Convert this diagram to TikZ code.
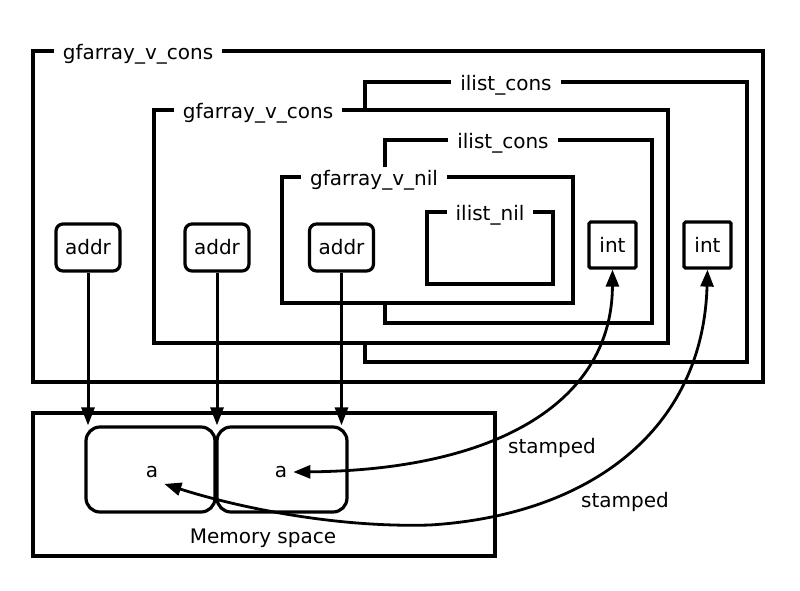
\documentclass[tikz,border=0pt]{standalone}
\usepackage{fontspec}
\setmainfont{DejaVu Sans}
\usetikzlibrary{arrows.meta}
\begin{document}
\begin{tikzpicture}[x=1pt,y=-1pt,
  fnt/.style={font=\fontsize{20}{24}\selectfont},
  frame/.style={draw, line width=3.4pt, fill=white},
  lbl/.style={fnt, fill=white, inner xsep=9pt, inner ysep=3pt, anchor=base},
  txt/.style={fnt, inner sep=1pt},
  addrbox/.style={fnt, draw, line width=3.2pt, rounded corners=7pt, minimum width=64pt, minimum height=47pt, inner sep=0pt},
  intbox/.style={fnt, draw, line width=3.2pt, rounded corners=1.5pt, minimum width=47pt, minimum height=46pt, inner sep=0pt},
  cell/.style={draw, line width=3.2pt, rounded corners=14pt, minimum height=85pt, inner sep=0pt},
  aval/.style={fnt, inner xsep=6pt, inner ysep=6pt},
  arr/.style={line width=3pt, -{Triangle[length=18pt,width=13pt]}},
  arrboth/.style={line width=2.8pt, {Triangle[length=17pt,width=13pt]}-{Triangle[length=17pt,width=13pt]}},
]
\useasboundingbox (0,0) rectangle (800,590);
\fill[white] (0,0) rectangle (800,590);

% outer gfarray_v_cons
\draw[frame] (33,51) rectangle (763,382);
\node[lbl] (l1) at (138,59) {gfarray\_v\_cons};

% outer ilist_cons
\draw[frame] (365,82) rectangle (747,362);
\node[lbl] (l2) at (506,90) {ilist\_cons};

% inner gfarray_v_cons
\draw[frame] (154,110) rectangle (668,343);
\node[lbl] (l3) at (258,118) {gfarray\_v\_cons};

% inner ilist_cons
\draw[frame] (385,140) rectangle (652,323);
\node[lbl] (l4) at (503,148) {ilist\_cons};

% gfarray_v_nil
\draw[frame] (282,177) rectangle (573,303);
\node[lbl] (l5) at (374,185) {gfarray\_v\_nil};

% ilist_nil
\draw[frame] (427,212) rectangle (553,284);
\node[lbl] (l6) at (490,220) {ilist\_nil};

% addr and int boxes
\node[addrbox] (addr1) at (88,247.5) {addr};
\node[addrbox] (addr2) at (217,247.5) {addr};
\node[addrbox] (addr3) at (341.5,247.5) {addr};
\node[intbox] (int1) at (612.5,245) {int};
\node[intbox] (int2) at (707.5,245) {int};

% memory space
\draw[line width=3.2pt] (33,413) rectangle (495,556);
\node[cell, minimum width=129pt] (cell1) at (150.5,469.5) {};
\node[cell, minimum width=130pt] (cell2) at (282,469.5) {};
\node[aval] (a1) at (152,472) {a};
\node[aval] (a2) at (281,472) {a};
\node[txt] (mem) at (263,538) {Memory space};

% pointer arrows
\draw[arr] (addr1.south) -- (addr1.south |- cell1.north);
\draw[arr] (addr2.south) -- (addr2.south |- cell1.north);
\draw[arr] (addr3.south) -- (addr3.south |- cell2.north);

% stamped arrows
\draw[arrboth] (int1.south) .. controls (612,400) and (500,470) .. (a2.east);
\draw[arrboth] (int2.south) .. controls (703,430) and (590,515) .. (430,525)
  .. controls (330,528) and (230,505) .. (a1.south east);
\node[txt] (s1) at (552,448) {stamped};
\node[txt] (s2) at (625,502) {stamped};
\end{tikzpicture}
\end{document}
